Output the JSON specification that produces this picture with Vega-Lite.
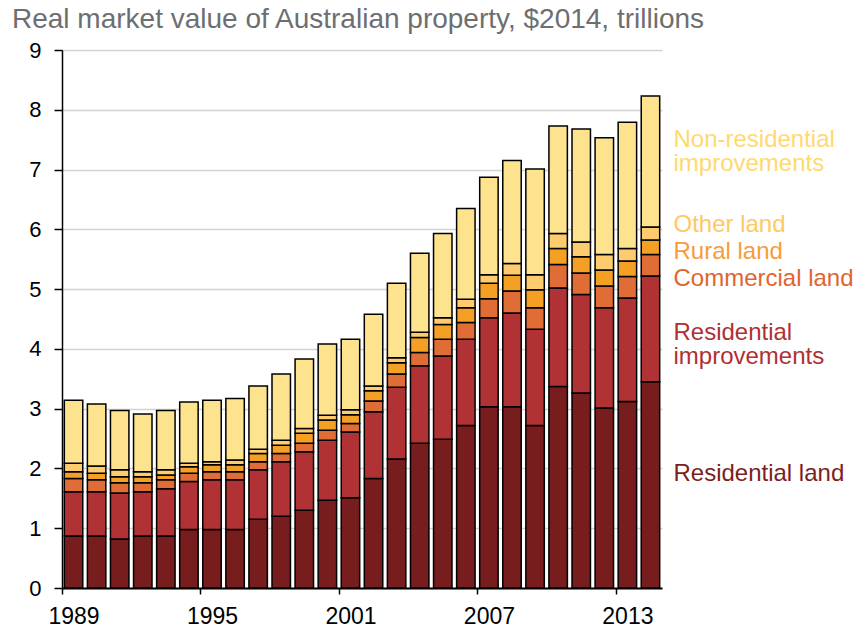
{
  "$schema": "https://vega.github.io/schema/vega-lite/v6.json",
  "width": 600,
  "height": 538,
  "autosize": {"type": "none"},
  "padding": {"left": 62, "top": 50, "right": 194, "bottom": 40},
  "background": "white",
  "config": {"font": "Liberation Sans", "view": {"stroke": null}},
  "title": {
    "text": "Real market value of Australian property, $2014, trillions",
    "anchor": "start",
    "frame": "group",
    "dx": -50,
    "offset": 5,
    "fontSize": 28,
    "fontWeight": "normal",
    "color": "#6D6E71",
    "font": "Liberation Sans"
  },
  "datasets": {
    "values": [
      {"year": 1989, "Residential land": 0.87, "Residential improvements": 0.74, "Commercial land": 0.22, "Rural land": 0.115, "Other land": 0.14, "Non-residential improvements": 1.055},
      {"year": 1990, "Residential land": 0.87, "Residential improvements": 0.74, "Commercial land": 0.20, "Rural land": 0.11, "Other land": 0.12, "Non-residential improvements": 1.04},
      {"year": 1991, "Residential land": 0.82, "Residential improvements": 0.77, "Commercial land": 0.17, "Rural land": 0.10, "Other land": 0.12, "Non-residential improvements": 0.99},
      {"year": 1992, "Residential land": 0.87, "Residential improvements": 0.74, "Commercial land": 0.15, "Rural land": 0.10, "Other land": 0.085, "Non-residential improvements": 0.965},
      {"year": 1993, "Residential land": 0.87, "Residential improvements": 0.79, "Commercial land": 0.15, "Rural land": 0.08, "Other land": 0.09, "Non-residential improvements": 0.99},
      {"year": 1994, "Residential land": 0.98, "Residential improvements": 0.80, "Commercial land": 0.14, "Rural land": 0.11, "Other land": 0.055, "Non-residential improvements": 1.025},
      {"year": 1995, "Residential land": 0.98, "Residential improvements": 0.83, "Commercial land": 0.135, "Rural land": 0.115, "Other land": 0.05, "Non-residential improvements": 1.03},
      {"year": 1996, "Residential land": 0.98, "Residential improvements": 0.83, "Commercial land": 0.135, "Rural land": 0.115, "Other land": 0.08, "Non-residential improvements": 1.03},
      {"year": 1997, "Residential land": 1.15, "Residential improvements": 0.83, "Commercial land": 0.13, "Rural land": 0.14, "Other land": 0.07, "Non-residential improvements": 1.06},
      {"year": 1998, "Residential land": 1.20, "Residential improvements": 0.91, "Commercial land": 0.14, "Rural land": 0.14, "Other land": 0.08, "Non-residential improvements": 1.11},
      {"year": 1999, "Residential land": 1.30, "Residential improvements": 0.98, "Commercial land": 0.14, "Rural land": 0.17, "Other land": 0.08, "Non-residential improvements": 1.16},
      {"year": 2000, "Residential land": 1.47, "Residential improvements": 1.00, "Commercial land": 0.17, "Rural land": 0.17, "Other land": 0.08, "Non-residential improvements": 1.19},
      {"year": 2001, "Residential land": 1.51, "Residential improvements": 1.10, "Commercial land": 0.14, "Rural land": 0.15, "Other land": 0.08, "Non-residential improvements": 1.18},
      {"year": 2002, "Residential land": 1.83, "Residential improvements": 1.12, "Commercial land": 0.18, "Rural land": 0.17, "Other land": 0.08, "Non-residential improvements": 1.20},
      {"year": 2003, "Residential land": 2.16, "Residential improvements": 1.20, "Commercial land": 0.22, "Rural land": 0.19, "Other land": 0.08, "Non-residential improvements": 1.25},
      {"year": 2004, "Residential land": 2.42, "Residential improvements": 1.30, "Commercial land": 0.22, "Rural land": 0.25, "Other land": 0.09, "Non-residential improvements": 1.32},
      {"year": 2005, "Residential land": 2.49, "Residential improvements": 1.39, "Commercial land": 0.28, "Rural land": 0.25, "Other land": 0.11, "Non-residential improvements": 1.41},
      {"year": 2006, "Residential land": 2.72, "Residential improvements": 1.44, "Commercial land": 0.28, "Rural land": 0.25, "Other land": 0.14, "Non-residential improvements": 1.52},
      {"year": 2007, "Residential land": 3.03, "Residential improvements": 1.49, "Commercial land": 0.32, "Rural land": 0.26, "Other land": 0.14, "Non-residential improvements": 1.63},
      {"year": 2008, "Residential land": 3.03, "Residential improvements": 1.57, "Commercial land": 0.37, "Rural land": 0.26, "Other land": 0.20, "Non-residential improvements": 1.72},
      {"year": 2009, "Residential land": 2.72, "Residential improvements": 1.61, "Commercial land": 0.36, "Rural land": 0.30, "Other land": 0.25, "Non-residential improvements": 1.77},
      {"year": 2010, "Residential land": 3.37, "Residential improvements": 1.65, "Commercial land": 0.39, "Rural land": 0.27, "Other land": 0.25, "Non-residential improvements": 1.80},
      {"year": 2011, "Residential land": 3.26, "Residential improvements": 1.65, "Commercial land": 0.36, "Rural land": 0.27, "Other land": 0.25, "Non-residential improvements": 1.89},
      {"year": 2012, "Residential land": 3.01, "Residential improvements": 1.68, "Commercial land": 0.36, "Rural land": 0.27, "Other land": 0.26, "Non-residential improvements": 1.95},
      {"year": 2013, "Residential land": 3.12, "Residential improvements": 1.73, "Commercial land": 0.36, "Rural land": 0.26, "Other land": 0.21, "Non-residential improvements": 2.11},
      {"year": 2014, "Residential land": 3.45, "Residential improvements": 1.77, "Commercial land": 0.36, "Rural land": 0.24, "Other land": 0.22, "Non-residential improvements": 2.19}
    ],
    "labels": [
      {"series": "Non-residential improvements", "label": "Non-residential\nimprovements", "pos": 7.50},
      {"series": "Other land", "label": "Other land", "pos": 6.08},
      {"series": "Rural land", "label": "Rural land", "pos": 5.62},
      {"series": "Commercial land", "label": "Commercial land", "pos": 5.17},
      {"series": "Residential improvements", "label": "Residential\nimprovements", "pos": 4.27},
      {"series": "Residential land", "label": "Residential land", "pos": 1.90}
    ]
  },
  "layer": [
    {
      "data": {"name": "values"},
      "transform": [
        {"fold": ["Residential land", "Residential improvements", "Commercial land", "Rural land", "Other land", "Non-residential improvements"], "as": ["category", "value"]},
        {"calculate": "indexof(['Residential land', 'Residential improvements', 'Commercial land', 'Rural land', 'Other land', 'Non-residential improvements'], datum.category)", "as": "stackOrder"}
      ],
      "mark": {"type": "bar", "stroke": "black", "strokeWidth": 1.5},
      "encoding": {
        "x": {
          "field": "year",
          "type": "ordinal",
          "scale": {"paddingInner": 0.2, "paddingOuter": 0.1},
          "axis": {
            "values": [1989, 1995, 2001, 2007, 2013],
            "bandPosition": 0,
            "tickOffset": -2.3,
            "labelOffset": 2.3,
            "labelAngle": 0,
            "tickSize": 6,
            "tickWidth": 1.5,
            "tickColor": "black",
            "domainColor": "black",
            "domainWidth": 2,
            "labelFontSize": 23,
            "labelColor": "black",
            "labelPadding": 11,
            "title": null,
            "grid": false
          }
        },
        "y": {
          "field": "value",
          "type": "quantitative",
          "stack": "zero",
          "scale": {"domain": [0, 9], "nice": false},
          "axis": {
            "values": [0, 1, 2, 3, 4, 5, 6, 7, 8, 9],
            "format": "d",
            "grid": true,
            "gridColor": "#D2D2D2",
            "gridWidth": 1.5,
            "domainColor": "black",
            "domainWidth": 1.5,
            "tickColor": "black",
            "tickWidth": 1.5,
            "tickSize": 8,
            "labelFontSize": 22,
            "labelColor": "black",
            "labelPadding": 13,
            "title": null
          }
        },
        "order": {"field": "stackOrder", "type": "quantitative"},
        "color": {
          "field": "category",
          "type": "nominal",
          "scale": {
            "domain": ["Residential land", "Residential improvements", "Commercial land", "Rural land", "Other land", "Non-residential improvements"],
            "range": ["#771D1D", "#B13235", "#E06C36", "#F4A024", "#FECC6E", "#FEE38E"]
          },
          "legend": null
        }
      }
    },
    {
      "data": {"name": "labels"},
      "mark": {"type": "text", "align": "left", "baseline": "middle", "dx": 23, "fontSize": 24, "lineBreak": "\n", "lineHeight": 24},
      "encoding": {
        "x": {"datum": 2014, "type": "ordinal"},
        "y": {"field": "pos", "type": "quantitative"},
        "text": {"field": "label"},
        "color": {
          "field": "series",
          "type": "nominal",
          "scale": {
            "domain": ["Residential land", "Residential improvements", "Commercial land", "Rural land", "Other land", "Non-residential improvements"],
            "range": ["#7B1E1E", "#B03032", "#E0652F", "#F79B3C", "#FFC862", "#FFD970"]
          },
          "legend": null
        }
      }
    }
  ],
  "resolve": {"scale": {"color": "independent"}}
}
